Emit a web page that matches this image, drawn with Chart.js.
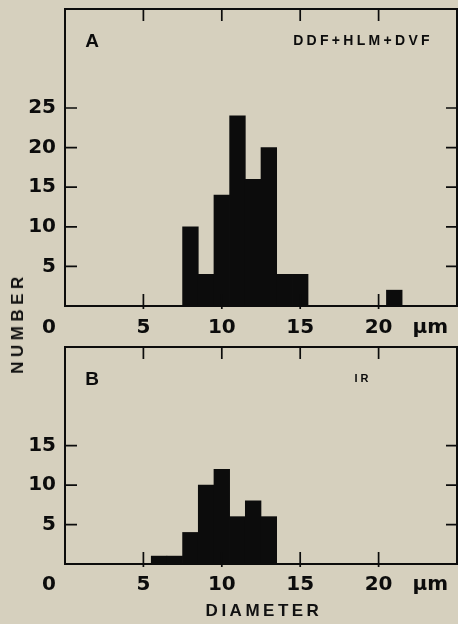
<!DOCTYPE html>
<html>
<head>
<meta charset="utf-8">
<script src="https://cdn.jsdelivr.net/npm/chart.js@4.4.1/dist/chart.umd.min.js"></script>
<style>
  body { margin: 0; background: #d6d0be; }
  #page { position: relative; width: 458px; height: 624px; overflow: hidden; background: #d6d0be; }
  canvas { position: absolute; left: 0; }
  #cA { top: 0; }
  #cB { top: 340px; }
  .lbl { position: absolute; font: bold 17px "Liberation Sans", Arial, sans-serif; color: #111; white-space: nowrap; }
  #yTitle { left: 18px; top: 323px; transform: translate(-50%, -50%) rotate(-90deg); letter-spacing: 4.5px; }
  #xTitle { left: 264px; top: 611px; transform: translate(-50%, -50%); letter-spacing: 3.5px; }
</style>
</head>
<body>
<div id="page">
  <canvas id="cA" width="458" height="340"></canvas>
  <canvas id="cB" width="458" height="284"></canvas>
  <div class="lbl" id="yTitle">NUMBER</div>
  <div class="lbl" id="xTitle">DIAMETER</div>
</div>
<script>
// panel A: DDF+HLM+DVF
const diameterA = [8, 9, 10, 11, 12, 13, 14, 15, 21];
const countA = [10, 4, 14, 24, 16, 20, 4, 4, 2];
// panel B: IR
const diameterB = [6, 7, 8, 9, 10, 11, 12, 13];
const countB = [1, 1, 4, 10, 12, 6, 8, 6];

const xTicks = [0, 5, 10, 15, 20];
const yTicksA = [5, 10, 15, 20, 25];
const yTicksB = [5, 10, 15];

const ink = '#0c0c0c';

// box, inward ticks and hand placed labels
const frame = {
  id: 'frame',
  afterDatasetsDraw(chart, args, opts) {
    const { ctx, chartArea: a } = chart;
    const x = chart.scales.x, y = chart.scales.y;
    ctx.save();
    ctx.strokeStyle = ink;
    ctx.lineWidth = 2;
    ctx.strokeRect(a.left, a.top, a.right - a.left, a.bottom - a.top);
    ctx.lineWidth = 1.7;
    ctx.beginPath();
    xTicks.slice(1).forEach(v => {
      const px = x.getPixelForValue(v);
      ctx.moveTo(px, a.top); ctx.lineTo(px, a.top + 12);
      ctx.moveTo(px, a.bottom - 12); ctx.lineTo(px, a.bottom + 3);
    });
    opts.yTicks.forEach(v => {
      const py = y.getPixelForValue(v);
      ctx.moveTo(a.left, py); ctx.lineTo(a.left + 12, py);
      ctx.moveTo(a.right - 11, py); ctx.lineTo(a.right, py);
    });
    ctx.stroke();

    ctx.fillStyle = ink;
    ctx.font = 'bold 20px "DejaVu Sans"';
    ctx.textBaseline = 'middle';
    ctx.textAlign = 'right';
    opts.yTicks.forEach(v => ctx.fillText(String(v), a.left - 9, y.getPixelForValue(v)));
    ctx.textAlign = 'center';
    xTicks.forEach(v => {
      ctx.fillText(String(v), x.getPixelForValue(v) - (v === 0 ? 16 : 0), a.bottom + opts.labelGap);
    });
    ctx.fillText('µm', x.getPixelForValue(23.3), a.bottom + opts.labelGap);

    ctx.font = 'bold 19px "Liberation Sans"';
    ctx.fillText(opts.panel, a.left + 27, a.top + 33);
    ctx.font = 'bold ' + opts.tagSize + 'px "Liberation Sans"';
    ctx.letterSpacing = opts.tagSpacing + 'px';
    ctx.fillText(opts.tag, 363, a.top + 32);
    ctx.restore();
  }
};

function histo(id, xs, ys, yMax, yTicks, pad, extra) {
  new Chart(document.getElementById(id), {
    type: 'bar',
    data: {
      datasets: [{
        data: xs.map((d, i) => ({ x: d, y: ys[i] })),
        backgroundColor: ink,
        borderWidth: 0,
        barPercentage: 1,
        categoryPercentage: 1
      }]
    },
    options: {
      responsive: false,
      animation: false,
      layout: { padding: pad },
      scales: {
        x: { type: 'linear', min: 0, max: 25, offset: false, display: false },
        y: { min: 0, max: yMax, display: false }
      },
      plugins: {
        legend: { display: false },
        tooltip: { enabled: false },
        frame: Object.assign({ yTicks: yTicks }, extra)
      }
    },
    plugins: [frame]
  });
}

histo('cA', diameterA, countA, 37.5, yTicksA,
  { left: 65, right: 1, top: 9, bottom: 34 },
  { panel: 'A', tag: 'DDF+HLM+DVF', tagSize: 14, tagSpacing: 3.3, labelGap: 22 });
histo('cB', diameterB, countB, 27.5, yTicksB,
  { left: 65, right: 1, top: 7, bottom: 60 },
  { panel: 'B', tag: 'IR', tagSize: 11, tagSpacing: 3, labelGap: 21 });
</script>
</body>
</html>
